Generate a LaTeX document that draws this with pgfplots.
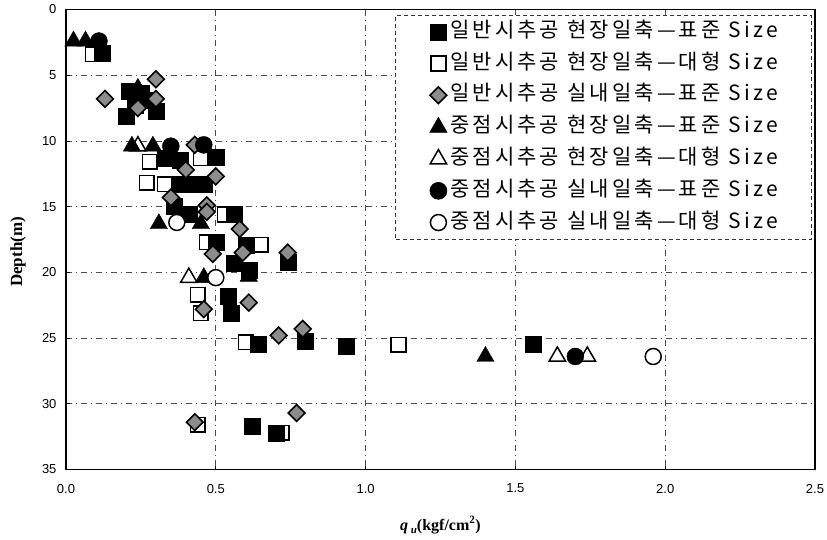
\documentclass[border=0pt]{standalone}
\usepackage{fontspec}
\setmainfont{Liberation Sans}
\newfontfamily\cjk[LetterSpace=15]{Noto Sans CJK KR}
\newfontfamily\tnr{Liberation Serif}
\usepackage{pgfplots}
\pgfplotsset{compat=1.18}
\pgfplotsset{
  sA/.style={mark=square*, mark size=8pt, draw=black, fill=black},
  sB/.style={mark=square*, mark size=7.3pt, mark options={draw=black, fill=white, line width=1.6pt}},
  sC/.style={mark=square*, mark size=5.9pt, mark options={rotate=45, draw=black, fill=black!45, line width=1.6pt}},
  sD/.style={mark=triangle*, mark size=10pt, mark options={draw=black, fill=black}},
  sE/.style={mark=triangle*, mark size=9.5pt, mark options={draw=black, fill=white, line width=1.5pt}},
  sF/.style={mark=*, mark size=8.5pt, mark options={draw=black, fill=black}},
  sG/.style={mark=*, mark size=8pt, mark options={draw=black, fill=white, line width=1.5pt}},
}
\begin{document}
\begin{tikzpicture}
\begin{axis}[
  at={(0pt,0pt)}, anchor=center,
  scale only axis, width=749pt, height=460pt,
  xmin=0, xmax=2.5, ymin=0, ymax=35, y dir=reverse,
  xtick={0,0.5,...,2.5}, ytick={0,5,...,35},
  /pgf/number format/assume math mode=true,
  ticklabel style={font=\fontsize{13}{15}\selectfont},
  xticklabel style={yshift=-11pt, /pgf/number format/.cd, fixed, fixed zerofill, precision=1},
  yticklabel style={xshift=-6pt},
  tick pos=left, tick align=inside, major tick length=4pt,
  tick style={black, line width=0.8pt},
  axis line style={draw=black, line width=1.8pt},
  grid=major,
  major grid style={dash pattern=on 6pt off 4pt on 1pt off 4pt, black!70, line width=0.6pt},
  clip=false,
  xlabel={\tnr\bfseries\fontsize{16}{18}\selectfont\textit{q}\,\raisebox{-0.4ex}{\fontsize{11}{12}\selectfont\textit{u}}(kgf/cm\textsuperscript{2})},
  xlabel style={at={(axis description cs:0.5,0)}, anchor=center, yshift=-55.5pt},
  ylabel={\tnr\bfseries\fontsize{17}{19}\selectfont Depth(m)},
  ylabel style={at={(axis description cs:-0.0641,0.473)}, anchor=center},
  legend cell align=left,
  legend style={at={(axis description cs:0.996,0.988)}, anchor=north east,
    draw=black!80, dash pattern=on 4pt off 3pt, line width=0.6pt, fill=white,
    font=\cjk\fontsize{21}{23}\selectfont, row sep=12.7pt, inner xsep=34pt, inner ysep=7pt,
    nodes={inner sep=0pt, text height=15pt, text depth=4pt},
    /tikz/every even column/.append style={column sep=0pt},
    /tikz/every odd column/.append style={column sep=3pt}},
]
\coordinate (bl) at (axis description cs:0,0);
\coordinate (tr) at (axis description cs:1,1);

\addlegendimage{only marks, sA}\addlegendentry{일반시추공 현장일축—표준 Size}
\addlegendimage{only marks, sB}\addlegendentry{일반시추공 현장일축—대형 Size}
\addlegendimage{only marks, sC}\addlegendentry{일반시추공 실내일축—표준 Size}
\addlegendimage{only marks, sD}\addlegendentry{중점시추공 현장일축—표준 Size}
\addlegendimage{only marks, sE}\addlegendentry{중점시추공 현장일축—대형 Size}
\addlegendimage{only marks, sF}\addlegendentry{중점시추공 실내일축—표준 Size}
\addlegendimage{only marks, sG}\addlegendentry{중점시추공 실내일축—대형 Size}

% open squares
\addplot[only marks, sB, forget plot] coordinates {
(0.09,3.4) (0.28,11.6) (0.45,11.3) (0.27,13.2) (0.33,13.3) (0.53,15.6)
(0.47,17.7) (0.65,17.9) (0.44,21.7) (0.45,23.1) (0.60,25.3) (1.11,25.5)
(0.44,31.6) (0.72,32.2)};
% filled squares
\addplot[only marks, sA, forget plot] coordinates {
(0.12,3.3) (0.21,6.2) (0.25,6.4) (0.27,6.9) (0.23,7.3) (0.20,8.1) (0.30,7.7)
(0.33,11.3) (0.38,11.5) (0.50,11.2) (0.38,13.3) (0.42,13.3) (0.46,13.3)
(0.36,15.0) (0.41,15.6) (0.56,15.6) (0.50,17.7) (0.60,17.9) (0.56,19.3)
(0.61,19.8) (0.74,19.2) (0.54,21.8) (0.55,23.1) (0.64,25.5) (0.80,25.2)
(0.935,25.6) (1.56,25.5) (0.62,31.7) (0.70,32.2)};
% diamonds
\addplot[only marks, sC, forget plot] coordinates {
(0.13,6.8) (0.30,5.3) (0.30,6.8) (0.24,7.5) (0.43,10.3) (0.40,12.2)
(0.50,12.7) (0.35,14.3) (0.47,14.9) (0.47,15.4) (0.58,16.7) (0.49,18.6)
(0.59,18.5) (0.74,18.5) (0.61,22.3) (0.46,22.8) (0.71,24.8) (0.79,24.3)
(0.43,31.4) (0.77,30.7)};
% open triangles
\addplot[only marks, sE, forget plot] coordinates {
(0.24,10.4) (0.41,20.4) (1.64,26.4) (1.74,26.4)};
% filled triangles
\addplot[only marks, sD, forget plot] coordinates {
(0.025,2.4) (0.065,2.4) (0.24,6.0) (0.22,10.4) (0.29,10.4) (0.31,16.3)
(0.45,16.3) (0.46,20.4) (0.61,20.3) (1.40,26.4)};
% open circles
\addplot[only marks, sG, forget plot] coordinates {
(0.37,16.2) (0.50,20.4) (1.96,26.4)};
% filled circles
\addplot[only marks, sF, forget plot] coordinates {
(0.11,2.4) (0.35,10.4) (0.46,10.3) (1.70,26.4)};
\end{axis}
\draw[line width=1.8pt] (bl) rectangle (tr);
\pgfresetboundingbox
\path[use as bounding box] ([shift={(-66pt,-69.5pt)}]bl) rectangle ([shift={(12pt,9.5pt)}]tr);
\end{tikzpicture}
\end{document}
